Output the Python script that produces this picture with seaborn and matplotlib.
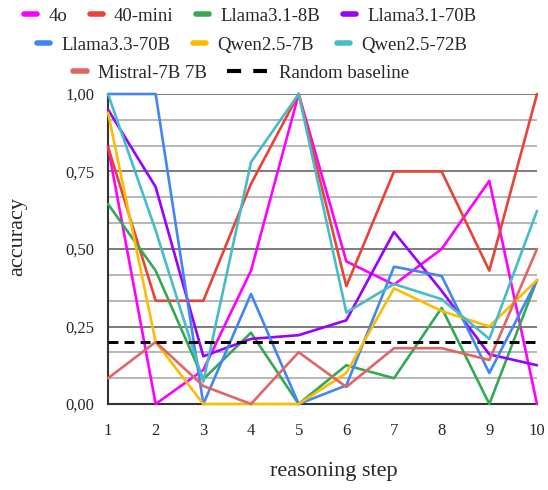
import numpy as np
import pandas as pd
import matplotlib
matplotlib.use("Agg")
import matplotlib.pyplot as plt
import seaborn as sns
from matplotlib.ticker import MultipleLocator, FuncFormatter
from matplotlib.lines import Line2D

steps = [1, 2, 3, 4, 5, 6, 7, 8, 9, 10]
models = ["4o", "40-mini", "Llama3.1-8B", "Llama3.1-70B", "Llama3.3-70B",
          "Qwen2.5-7B", "Qwen2.5-72B", "Mistral-7B 7B"]
acc_4o = [0.83, 0.00, 0.11, 0.43, 1.00, 0.46, 0.385, 0.50, 0.72, 0.00]
acc_40mini = [0.83, 0.333, 0.333, 0.71, 1.00, 0.38, 0.75, 0.75, 0.43, 1.00]
acc_llama8b = [0.645, 0.43, 0.08, 0.23, 0.00, 0.125, 0.083, 0.31, 0.00, 0.40]
acc_llama70b = [0.95, 0.70, 0.154, 0.21, 0.222, 0.27, 0.555, 0.365, 0.16, 0.125]
acc_llama33 = [1.00, 1.00, 0.00, 0.355, 0.00, 0.06, 0.443, 0.413, 0.10, 0.40]
acc_qwen7b = [0.94, 0.20, 0.00, 0.00, 0.00, 0.10, 0.373, 0.30, 0.25, 0.40]
acc_qwen72b = [1.00, 0.56, 0.072, 0.78, 1.00, 0.295, 0.387, 0.338, 0.21, 0.623]
acc_mistral = [0.083, 0.20, 0.058, 0.00, 0.167, 0.055, 0.18, 0.18, 0.142, 0.50]
random_baseline = 0.2
baseline_label = "Random baseline"
colors = ["#FF00FF", "#EA4335", "#34A853", "#9900FF", "#4285F4",
          "#FBBC04", "#46BDC6", "#E06666"]

series = [acc_4o, acc_40mini, acc_llama8b, acc_llama70b, acc_llama33,
          acc_qwen7b, acc_qwen72b, acc_mistral]
rows = []
for m, vals in zip(models, series):
    for s, v in zip(steps, vals):
        rows.append({"step": s, "accuracy": v, "model": m})
df = pd.DataFrame(rows)

sns.set_style("white")
plt.rcParams["font.family"] = ["Liberation Serif", "DejaVu Serif"]

fig = plt.figure(figsize=(5.48, 4.90), dpi=100)
ax = fig.add_axes([108 / 548, 1 - 404 / 490, (537 - 108) / 548, (404 - 94) / 490])

sns.lineplot(data=df, x="step", y="accuracy", hue="model", hue_order=models,
             palette=dict(zip(models, colors)), linewidth=1.9, ax=ax,
             legend=False, clip_on=False, zorder=3)
ax.axhline(random_baseline, color="black", linestyle=(0, (3.4, 2.1)), linewidth=2.1, zorder=4)

ax.set_xlim(1, 10)
ax.set_ylim(0, 1)
ax.set_xticks(steps)
ax.yaxis.set_major_locator(MultipleLocator(0.25))
ax.yaxis.set_minor_locator(MultipleLocator(1 / 12))
ax.yaxis.set_major_formatter(FuncFormatter(lambda v, p: f"{v:.2f}".replace(".", ",")))
ax.grid(True, which="major", axis="y", color="#666666", linewidth=1.2, zorder=0)
ax.grid(True, which="minor", axis="y", color="#aaaaaa", linewidth=1.2, zorder=0)
ax.grid(False, axis="x")
for side in ["top", "right"]:
    ax.spines[side].set_visible(False)
for side in ["left", "bottom"]:
    ax.spines[side].set_color("#333333")
    ax.spines[side].set_linewidth(1.5)
ax.tick_params(axis="both", which="major", direction="inout", length=12, width=1.3,
               color="#222222", labelsize=12, pad=8)
ax.tick_params(axis="y", which="minor", direction="inout", length=8, width=1.3, color="#222222")
ax.tick_params(axis="y", which="major", pad=4)
ax.set_xlabel("reasoning step", fontsize=16)
ax.set_ylabel("accuracy", fontsize=16)
ax.xaxis.label.set_va("center")
ax.yaxis.label.set_va("center")
ax.xaxis.set_label_coords(0.527, -0.219)
ax.yaxis.set_label_coords(-0.21, 0.54)

handles = [Line2D([], [], color=c, linewidth=4) for c in colors]
fs = 13.5
common = dict(loc="center", frameon=False, fontsize=fs, handlelength=0.7,
              handletextpad=0.6, columnspacing=1.2, borderpad=0, borderaxespad=0)
leg1 = fig.legend(handles[:4], models[:4], ncol=4,
                  bbox_to_anchor=(250 / 548, 1 - 16 / 490), **common)
leg2 = fig.legend(handles[4:7], models[4:7], ncol=3,
                  bbox_to_anchor=(252 / 548, 1 - 45 / 490), **common)
leg3 = fig.legend(handles[7:8], models[7:8], ncol=1,
                  bbox_to_anchor=(140 / 548, 1 - 73 / 490), **common)
dash_handle = Line2D([], [], color="black", linewidth=3, linestyle=(0, (3.4, 2.9)))
common_dash = dict(common)
common_dash["handlelength"] = 2.15
leg4 = fig.legend([dash_handle], [baseline_label], ncol=1,
                  bbox_to_anchor=(318 / 548, 1 - 73 / 490), **common_dash)

fig.savefig("out.png", dpi=100)
